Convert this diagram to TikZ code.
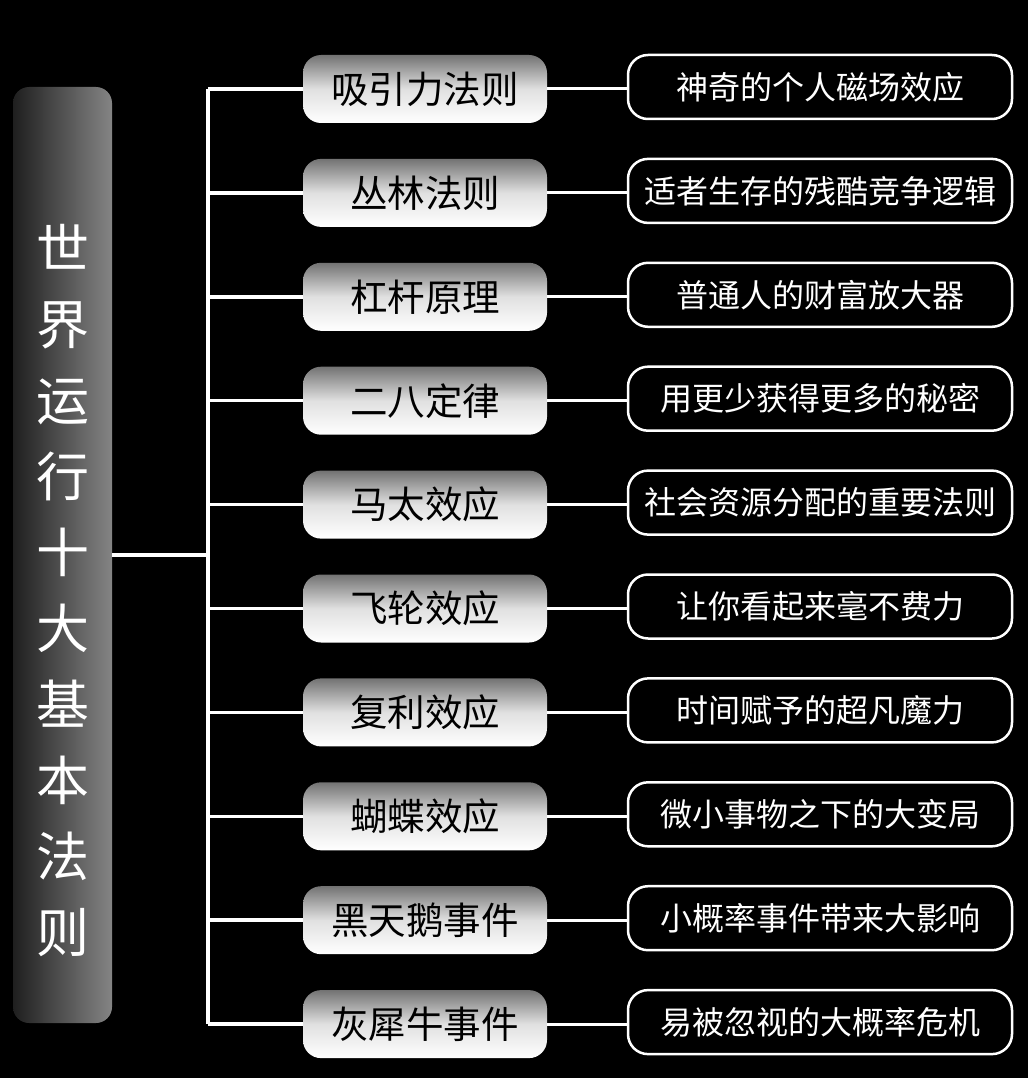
\documentclass[tikz,border=0pt]{standalone}
\usepackage{fontspec}
\setmainfont{Noto Sans CJK SC}
\usetikzlibrary{positioning}

\tikzset{
  link/.style={draw=white, line width=3.5pt},
  titlebar/.style={rounded corners=16pt, left color=black!88, right color=black!48,
    minimum width=99pt, minimum height=936pt, inner sep=0pt},
  titletext/.style={text=white, align=center, font=\fontsize{53}{76.1}\selectfont},
  lawbox/.style={rounded corners=18pt, top color=black!55, bottom color=white,
    middle color=black!12, minimum width=244pt, minimum height=68pt, inner sep=0pt,
    text=black, font=\fontsize{37.5}{40}\selectfont},
  notebox/.style={draw=white, line width=2.5pt, rounded corners=20pt, fill=black,
    minimum width=384pt, minimum height=64pt, inner sep=0pt, text=white,
    font=\fontsize{32}{36}\selectfont}
}

\begin{document}
\begin{tikzpicture}[x=1pt, y=-1pt]
% background
\fill[black] (0,0) rectangle (1028,1078);
\useasboundingbox (0,0) rectangle (1028,1078);

% title bar on the left
\node[titlebar] (title) at (62.5,555) {};
\node[titletext] (titlelabel) at (62.5,590.5) {世\\界\\运\\行\\十\\大\\基\\本\\法\\则};

% trunk
\coordinate (trunk) at (208,555);
\draw[link] (title.east) -- (trunk);

% laws and their notes
\foreach \law/\note [count=\i] in {
  吸引力法则/神奇的个人磁场效应,
  丛林法则/适者生存的残酷竞争逻辑,
  杠杆原理/普通人的财富放大器,
  二八定律/用更少获得更多的秘密,
  马太效应/社会资源分配的重要法则,
  飞轮效应/让你看起来毫不费力,
  复利效应/时间赋予的超凡魔力,
  蝴蝶效应/微小事物之下的大变局,
  黑天鹅事件/小概率事件带来大影响,
  灰犀牛事件/易被忽视的大概率危机} {
  \node[lawbox] (law\i) at (425,{89+103.9*(\i-1)}) {\law};
  \node[notebox] (note\i) at (820,{87+103.9*(\i-1)}) {\note};
  \draw[link, line width=3pt] (law\i.east) -- (law\i.east -| note\i.west);
  \draw[link] (law\i.west) -- (law\i.west -| trunk);
}
\draw[link] (law1.west -| trunk) -- (law10.west -| trunk);
\end{tikzpicture}
\end{document}
